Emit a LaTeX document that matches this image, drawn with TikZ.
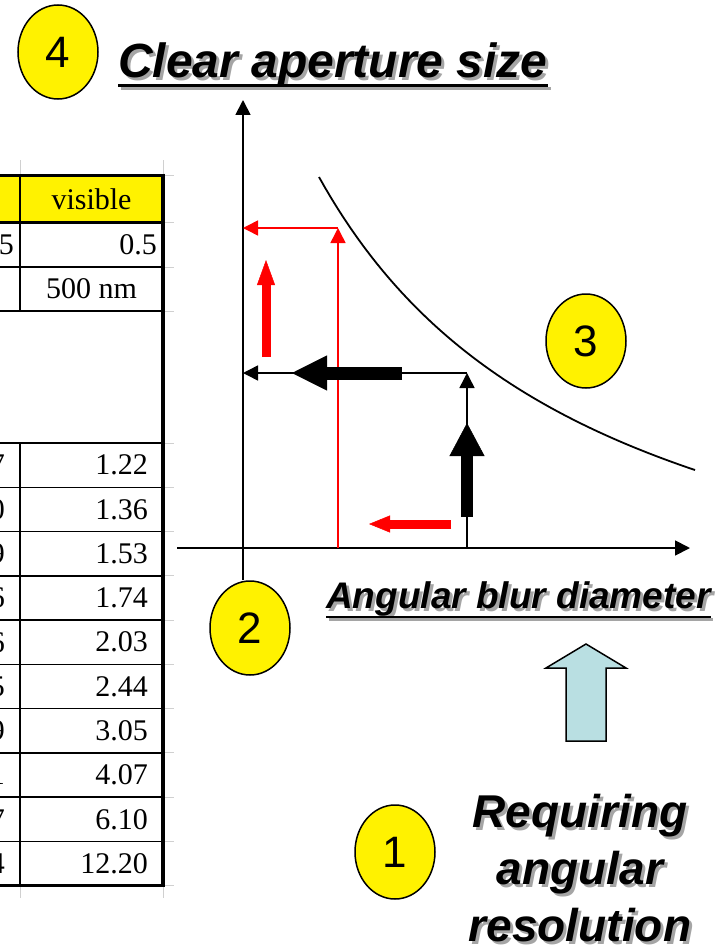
\documentclass[tikz,border=0pt]{standalone}
\usepackage{fontspec}
\setmainfont{Liberation Sans}
\newfontfamily\tabfont{Liberation Serif}
\usetikzlibrary{arrows.meta, shapes.geometric}

\definecolor{arrowblue}{RGB}{185,223,226}
\definecolor{shadowgray}{RGB}{165,165,165}
\definecolor{gridgray}{RGB}{208,208,208}

\newcommand{\shadowed}[1]{\makebox[0pt][l]{\kern3pt\raisebox{-3pt}{\textcolor{shadowgray}{#1}}}#1}

\begin{document}
\begin{tikzpicture}[x=1pt, y=-1pt,
    numdot/.style={ellipse, draw, line width=1.5pt, fill=yellow, minimum width=80pt, minimum height=94pt, inner sep=0pt, font=\fontsize{44}{50}\selectfont},
    cell/.style={inner sep=0pt, font=\tabfont\fontsize{30}{34}\selectfont},
    guide/.style={line width=1.5pt, -{Triangle[length=15pt, width=15pt]}},
    axis/.style={line width=1.8pt, -{Triangle[length=15pt, width=15pt]}},
    heading/.style={inner sep=0pt, font=\bfseries\itshape\fontsize{#1}{#1}\selectfont}]
    \useasboundingbox (0,0) rectangle (726,947);

    % Draw table
    \fill[yellow] (0,175) rectangle (163,222);
    \foreach \y in {175,222,267,311,443}
        \draw[gridgray, line width=1pt] (163,\y) -- (174,\y);
    \foreach \i in {1,...,10}
        \draw[gridgray, line width=1pt] (163,{443+44.27*\i}) -- (174,{443+44.27*\i});
    \draw[gridgray, line width=1pt] (20,160) -- (20,175) (163,160) -- (163,175) (20,886) -- (20,898) (163,886) -- (163,898);
    \draw[line width=1.5pt] (0,267) -- (163,267) (0,311) -- (163,311) (0,443) -- (163,443);
    \foreach \i in {1,...,9}
        \draw[line width=1.5pt] (0,{443+44.27*\i}) -- (163,{443+44.27*\i});
    \draw[line width=1.5pt] (20,175) -- (20,311) (20,443) -- (20,885.7);
    \draw[line width=3pt] (0,175) -- (163,175) (0,222) -- (163,222) (0,885.7) -- (163,885.7);
    \draw[line width=3.5pt] (163,173.5) -- (163,887.2);

    % Table entries
    \node[cell] (head) at (91.5,199) {visible};
    \node[cell, anchor=east] (lam) at (157,245) {0.5};
    \node[cell, anchor=east] (lamcut) at (14,245) {5};
    \node[cell] (unit) at (91.5,289) {500 nm};
    \foreach \v/\d [count=\i] in {1.22/7, 1.36/0, 1.53/9, 1.74/6, 2.03/6, 2.44/5, 3.05/9, 4.07/1, 6.10/7, 12.20/4} {
        \node[cell, anchor=east] (val\i) at (148,{443+44.27*(\i-0.5)}) {\v};
        \node[cell, anchor=east] (cut\i) at (5,{443+44.27*(\i-0.5)}) {\d};
    }

    % Draw nodes
    \node[numdot] (4) at (58,52) {4};
    \node[numdot] (3) at (586,341) {3};
    \node[numdot] (2) at (250,628) {2};
    \node[numdot] (1) at (395,852) {1};

    % Axes and curve
    \coordinate (O) at (243,548);
    \coordinate (ytop) at (243,100);
    \coordinate (xstart) at (177,548);
    \coordinate (xend) at (690,548);
    \coordinate (rc) at (338,228);
    \coordinate (bc) at (467,373);
    \draw[axis] (xstart) -- (xend);
    \draw[axis] (2.north -| O) -- (ytop);
    \draw[line width=1.8pt] plot[domain=319:695, samples=60] (\x, {694.3 - 1488.69/((\x-31.2)/100)});

    % Draw connections
    \draw[guide, red] (rc |- O) -- (rc);
    \draw[guide, red] (rc) -- (rc -| O);
    \draw[guide] (bc |- O) -- (bc);
    \draw[guide] (bc) -- (bc -| O);

    % Fat arrows
    \draw[line width=12pt, -{Triangle[length=33pt, width=35pt, line width=0.5pt]}] (467,517) -- (467,423);
    \draw[line width=13pt, -{Triangle[length=35pt, width=35pt, line width=0.5pt]}] (402,373) -- (292,373);
    \draw[red, line width=9pt, -{Triangle[length=25pt, width=18pt, line width=0.5pt]}] (266,357) -- (266,260);
    \draw[red, line width=9pt, -{Triangle[length=21pt, width=17pt, line width=0.5pt]}] (451,524) -- (369,524);
    \filldraw[fill=arrowblue, line width=1.5pt] (586,644) -- (626,668) -- (606,668) -- (606,741) -- (566,741) -- (566,668) -- (546,668) -- cycle;

    % Labels
    \node[heading=48, anchor=base west] (title) at (118,78) {\shadowed{Clear aperture size}};
    \draw[shadowgray, line width=3pt] ([xshift=3pt, yshift=-11pt]title.base west) -- ([xshift=3pt, yshift=-11pt]title.base east);
    \draw[line width=3pt] ([yshift=-8pt]title.base west) -- ([yshift=-8pt]title.base east);
    \node[heading=37, anchor=base west] (xlabel) at (326,608) {\shadowed{Angular blur diameter}};
    \draw[shadowgray, line width=2.5pt] ([xshift=2.5pt, yshift=-11.5pt]xlabel.base west) -- ([xshift=2.5pt, yshift=-11.5pt]xlabel.base east);
    \draw[line width=2.5pt] ([yshift=-9pt]xlabel.base west) -- ([yshift=-9pt]xlabel.base east);
    \node[inner sep=0pt, align=center, anchor=north, font=\bfseries\itshape\fontsize{46}{57}\selectfont] (need) at (580,794) {\shadowed{Requiring}\\\shadowed{angular}\\\shadowed{resolution}};
\end{tikzpicture}
\end{document}
